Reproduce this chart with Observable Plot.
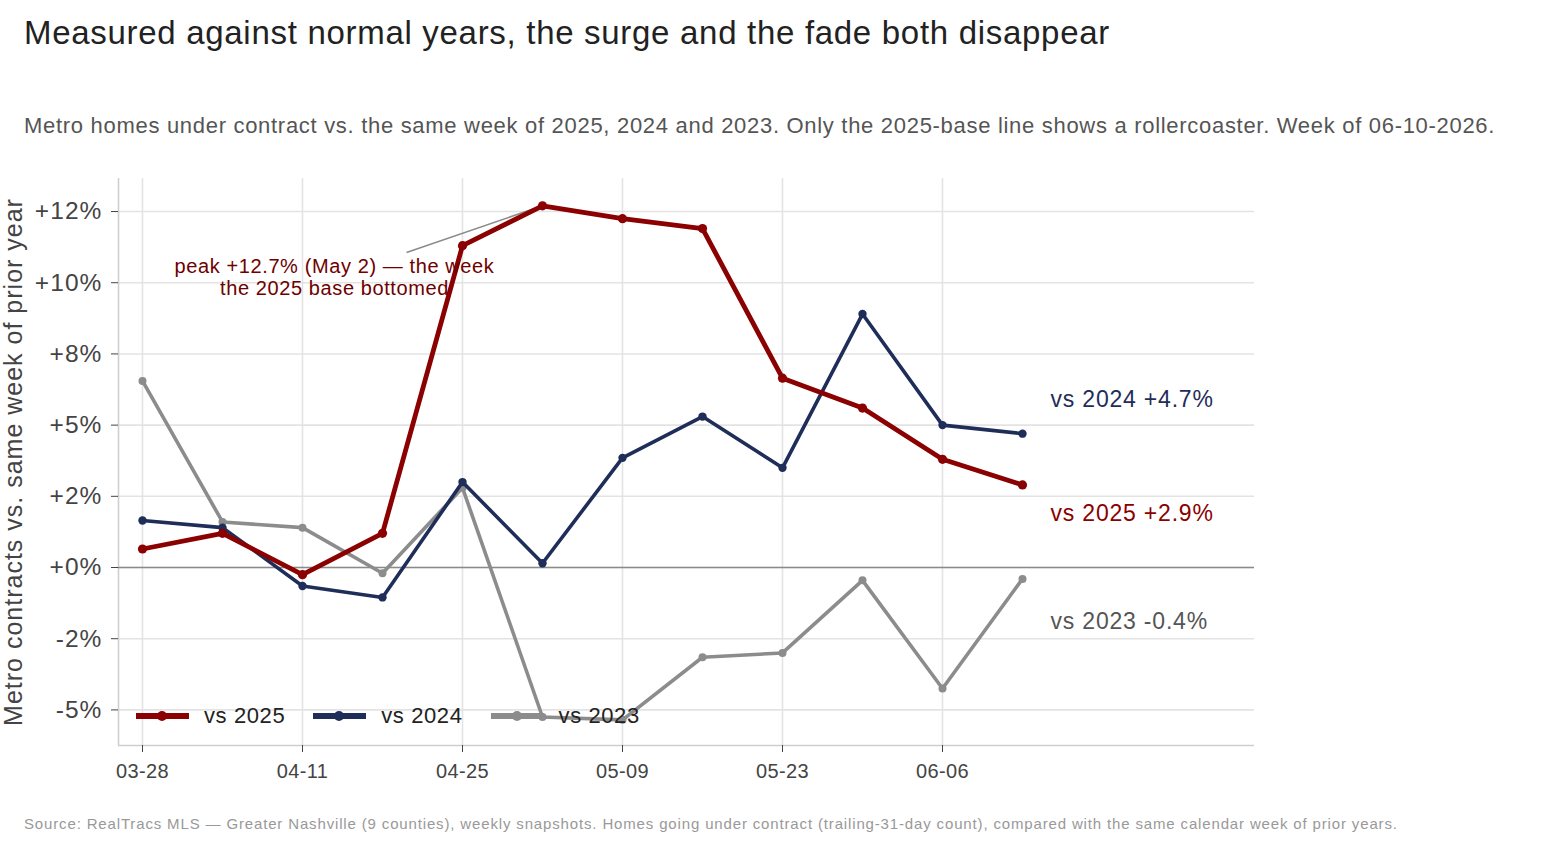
<!DOCTYPE html>
<html>
<head>
<meta charset="utf-8">
<script src="https://cdn.jsdelivr.net/npm/d3@7"></script>
<script src="https://cdn.jsdelivr.net/npm/@observablehq/plot@0.6"></script>
<style>
  body { margin: 0; background: #fff; font-family: "Liberation Sans", Arial, sans-serif; }
  #wrap { position: relative; width: 1568px; height: 848px; overflow: hidden; }
  #title { position: absolute; left: 24px; top: 14px; margin: 0; font-size: 33px; letter-spacing: 0.7px; font-weight: 400; color: #222; white-space: nowrap; }
  #subtitle { position: absolute; left: 24px; top: 113px; margin: 0; font-size: 22px; letter-spacing: 0.7px; color: #555; white-space: nowrap; }
  #caption { position: absolute; left: 24px; top: 815px; margin: 0; font-size: 15px; letter-spacing: 0.85px; color: #999; white-space: nowrap; }
  #chart { position: absolute; left: 0; top: 160px; }
  #chart g[aria-label="y-axis tick label"] text { letter-spacing: 1.1px; }
  #chart g[aria-label="x-axis tick label"] text { letter-spacing: 0.4px; }
  #chart text[aria-label="axis title"] { letter-spacing: 1px; }
  #chart text[aria-label="end label"] { letter-spacing: 0.8px; }
  #chart text[aria-label="peak note"] { letter-spacing: 0.6px; }
  #legend { position: absolute; left: 136px; top: 703px; display: flex; align-items: center; font-size: 22px; letter-spacing: 0.6px; color: #222; }
  .item { display: flex; align-items: center; margin-right: 28px; }
  .item svg { margin-right: 15px; }
</style>
</head>
<body>
<div id="wrap">
  <h1 id="title">Measured against normal years, the surge and the fade both disappear</h1>
  <p id="subtitle">Metro homes under contract vs. the same week of 2025, 2024 and 2023. Only the 2025-base line shows a rollercoaster. Week of 06-10-2026.</p>
  <div id="chart"></div>
  <div id="legend"></div>
  <p id="caption">Source: RealTracs MLS — Greater Nashville (9 counties), weekly snapshots. Homes going under contract (trailing-31-day count), compared with the same calendar week of prior years.</p>
</div>
<script>
// Weekly snapshot dates (2026)
const weeks = ["2026-03-28","2026-04-04","2026-04-11","2026-04-18","2026-04-25","2026-05-02",
               "2026-05-09","2026-05-16","2026-05-23","2026-05-30","2026-06-06","2026-06-13"];

// % change in homes under contract vs. the same week of each base year
const vs2025 = [0.65, 1.2, -0.25, 1.2, 11.3, 12.7, 12.25, 11.9, 6.65, 5.6, 3.8, 2.9];
const vs2024 = [1.65, 1.4, -0.65, -1.05, 3.0, 0.15, 3.85, 5.3, 3.5, 8.9, 5.0, 4.7];
const vs2023 = [6.55, 1.6, 1.4, -0.2, 2.8, -5.25, -5.35, -3.15, -3.0, -0.45, -4.25, -0.4];

const seriesNames = ["vs 2025", "vs 2024", "vs 2023"];

// Axis ticks
const yTicks = [-5, -2.5, 0, 2.5, 5, 7.5, 10, 12.5];
const yTickLabels = ["-5%", "-2%", "+0%", "+2%", "+5%", "+8%", "+10%", "+12%"];
const xTickLabels = ["03-28", "04-11", "04-25", "05-09", "05-23", "06-06"];

const parse = d3.utcParse("%Y-%m-%d");
const dates = weeks.map(parse);

const styles = {
  "vs 2025": {color: "#8b0000", width: 4.8, r: 4.6, labelDy: 29},
  "vs 2024": {color: "#1f2d59", width: 3.6, r: 4.2, labelDy: -34},
  "vs 2023": {color: "#8c8c8c", width: 3.6, r: 4.0, labelDy: 43}
};
const labelColors = {"vs 2025": "#8b0000", "vs 2024": "#1f2d59", "vs 2023": "#555555"};

const valuesBy = {"vs 2025": vs2025, "vs 2024": vs2024, "vs 2023": vs2023};
const rows = seriesNames.flatMap(s => dates.map((d, i) => ({series: s, date: d, value: valuesBy[s][i]})));

const day = 864e5;
const xDomain = [new Date(dates[0] - 2.1 * day), new Date(+dates[0] + 97.3 * day)];
const yDomain = [-6.25, 13.66];
const xTicks = xTickLabels.map(t => parse("2026-" + t));
const yLabelMap = new Map(yTicks.map((t, i) => [t, yTickLabels[i]]));

// Peak annotation (2025 base)
const peakIdx = vs2025.indexOf(d3.max(vs2025));
const peak = {date: dates[peakIdx], value: vs2025[peakIdx]};
const noteText = `peak +${peak.value.toFixed(1)}% (May 2) — the week\nthe 2025 base bottomed`;
const notePos = {date: new Date(+dates[0] + 16.8 * day), value: 10.2};
const leaderStart = {date: new Date(+dates[0] + 23.1 * day), value: 11.06};

const drawOrder = ["vs 2023", "vs 2024", "vs 2025"];
const seriesMarks = drawOrder.flatMap(s => {
  const data = rows.filter(r => r.series === s);
  const st = styles[s];
  return [
    Plot.line(data, {x: "date", y: "value", stroke: st.color, strokeWidth: st.width, strokeLinejoin: "round", strokeLinecap: "round"}),
    Plot.dot(data, {x: "date", y: "value", fill: st.color, r: st.r, stroke: "none"})
  ];
});

const endLabels = seriesNames.map(s => {
  const data = rows.filter(r => r.series === s).slice(-1);
  const v = data[0].value;
  return Plot.text(data, {
    x: "date", y: "value",
    text: d => `${s} ${v >= 0 ? "+" : ""}${v.toFixed(1)}%`,
    dx: 28, dy: styles[s].labelDy, textAnchor: "start",
    fontSize: 23, fill: labelColors[s], ariaLabel: () => "end label"
  });
});

const chart = Plot.plot({
  width: 1568,
  height: 640,
  marginLeft: 118,
  marginRight: 314,
  marginTop: 18,
  marginBottom: 55,
  style: {fontFamily: "'Liberation Sans', Arial, sans-serif", background: "#fff", overflow: "visible"},
  x: {type: "utc", domain: xDomain},
  y: {domain: yDomain},
  marks: [
    Plot.gridY(yTicks, {stroke: "#e3e3e3", strokeOpacity: 1, strokeWidth: 1.6}),
    Plot.gridX(xTicks, {stroke: "#e3e3e3", strokeOpacity: 1, strokeWidth: 1.6}),
    Plot.ruleX([xDomain[0]], {stroke: "#cfcfcf", strokeWidth: 1.6}),
    Plot.ruleY([yDomain[0]], {stroke: "#cfcfcf", strokeWidth: 1.6}),
    Plot.ruleY([0], {stroke: "#8a8a8a", strokeWidth: 1.6}),
    Plot.axisY({ticks: yTicks, tickFormat: d => yLabelMap.get(d), tickSize: 7, tickPadding: 9,
                fontSize: 24.5, color: "#444", label: null}),
    Plot.axisX({ticks: xTicks, tickFormat: d3.utcFormat("%m-%d"), tickSize: 7, tickPadding: 11,
                fontSize: 20, color: "#444", label: null}),
    Plot.text(["Metro contracts vs. same week of prior year"], {
      frameAnchor: "left", textAnchor: "middle", rotate: -90, dx: -105, fontSize: 25,
      fill: "#444", ariaLabel: () => "axis title"
    }),
    Plot.link([peak], {
      x1: () => leaderStart.date, y1: () => leaderStart.value,
      x2: "date", y2: "value", stroke: "#8a8a8a", strokeWidth: 1.6
    }),
    ...seriesMarks,
    Plot.text([notePos], {
      x: "date", y: "value", text: () => noteText, fontSize: 20, fill: "#6e0000",
      lineHeight: 1.12, textAnchor: "middle", ariaLabel: () => "peak note"
    }),
    ...endLabels
  ]
});
document.getElementById("chart").appendChild(chart);

// Legend
const legend = d3.select("#legend");
seriesNames.forEach(s => {
  const item = legend.append("div").attr("class", "item");
  const sw = item.append("svg").attr("width", 53).attr("height", 14);
  sw.append("line").attr("x1", 0).attr("x2", 53).attr("y1", 7).attr("y2", 7)
    .attr("stroke", styles[s].color).attr("stroke-width", 6);
  sw.append("circle").attr("cx", 26).attr("cy", 7).attr("r", 5).attr("fill", styles[s].color);
  item.append("span").text(s);
});
</script>
</body>
</html>
